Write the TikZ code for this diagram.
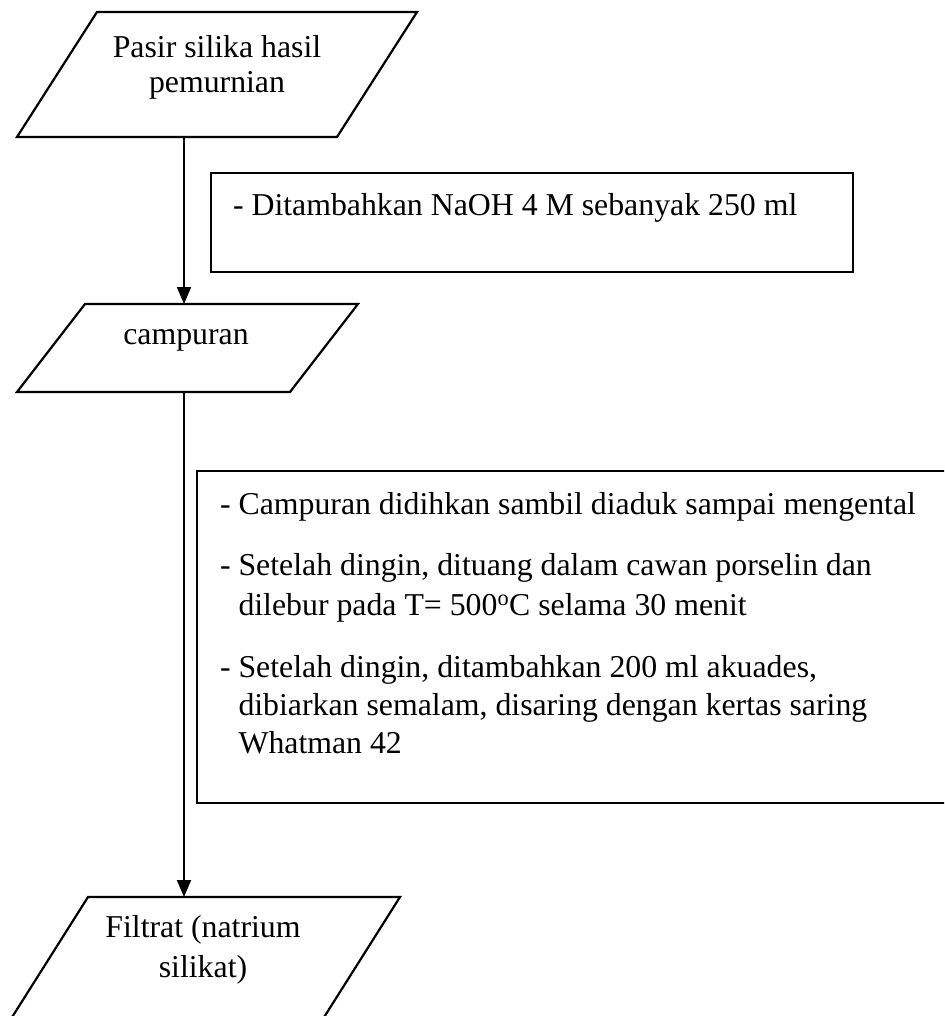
\documentclass[tikz,border=0pt]{standalone}
\usepackage{fontspec}
\setmainfont{Liberation Serif}
\usetikzlibrary{arrows.meta}
\begin{document}
\begin{tikzpicture}[x=1pt,y=-1pt,
  frame/.style={draw, line width=2.2pt, line join=miter},
  holder/.style={inner sep=0pt, outer sep=0pt},
  lbl/.style={inner sep=0pt, outer sep=0pt, font=\fontsize{31.8pt}{40pt}\selectfont},
  arr/.style={draw, line width=2pt, -{Triangle[length=17pt,width=14pt]}}]
\fill[white] (0,0) rectangle (944,1016);
\useasboundingbox (0,0) rectangle (944,1016);
\clip (0,0) rectangle (944,1016);

% parallelogram holders
\node[holder, minimum width=400pt, minimum height=125pt] (P1) at (217,74.5) {};
\node[holder, minimum width=341pt, minimum height=88pt] (P2) at (187.5,348) {};
\node[holder, minimum width=391pt, minimum height=125pt] (P3) at (204.5,959.5) {};

\draw[frame] ([xshift=80pt]P1.north west) -- (P1.north east) -- ([xshift=-80pt]P1.south east) -- (P1.south west) -- cycle;
\draw[frame] ([xshift=68pt]P2.north west) -- (P2.north east) -- ([xshift=-68pt]P2.south east) -- (P2.south west) -- cycle;
\draw[frame] ([xshift=79pt]P3.north west) -- (P3.north east) -- ([xshift=-79pt]P3.south east) -- (P3.south west) -- cycle;

% rectangles
\node[holder, frame, minimum width=642pt, minimum height=99pt] (B1) at (532,222.5) {};
\node[holder, frame, minimum width=793pt, minimum height=332pt] (B2) at (593.5,637) {};

% connectors
\coordinate (X) at (184,0);
\draw[arr] (P1.south -| X) -- (P2.north -| X);
\draw[arr] (P2.south -| X) -- (P3.north -| X);

% texts
\node[lbl, anchor=base] (t1a) at (217,58) {Pasir silika hasil};
\node[lbl, anchor=base] (t1b) at (217,93) {pemurnian};
\node[lbl, anchor=base] (t2) at (186,344) {campuran};
\node[lbl, anchor=base] (t3a) at (203,937) {Filtrat (natrium};
\node[lbl, anchor=base] (t3b) at (203,977) {silikat)};

\node[lbl, anchor=base west] (b1) at (233,215) {- Ditambahkan NaOH 4 M sebanyak 250 ml};

\node[lbl, anchor=base west] (c1) at (220,514) {- Campuran didihkan sambil diaduk sampai mengental};
\node[lbl, anchor=base west] (c2) at (220,575) {- Setelah dingin, dituang dalam cawan porselin dan};
\node[lbl, anchor=base west] (c2b) at (238.5,615) {dilebur pada T= 500\textsuperscript{o}C selama 30 menit};
\node[lbl, anchor=base west] (c3) at (220,677) {- Setelah dingin, ditambahkan 200 ml akuades,};
\node[lbl, anchor=base west] (c3b) at (238.5,715) {dibiarkan semalam, disaring dengan kertas saring};
\node[lbl, anchor=base west] (c3c) at (238.5,753) {Whatman 42};
\end{tikzpicture}
\end{document}
